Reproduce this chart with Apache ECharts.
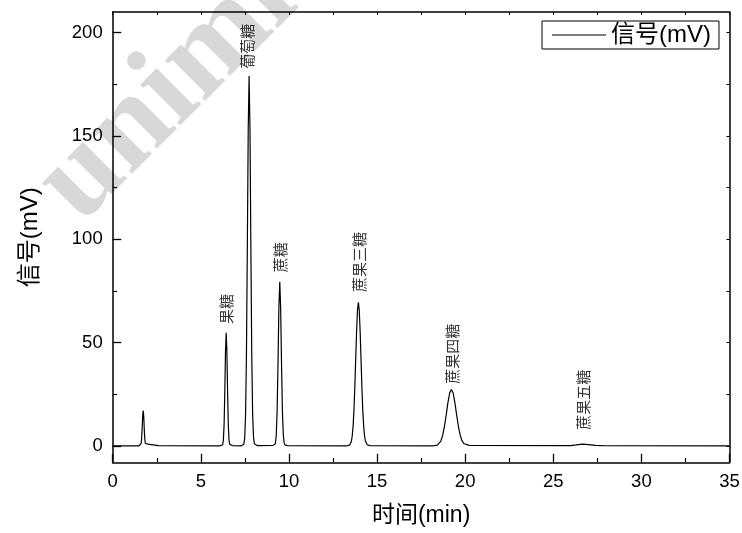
<!DOCTYPE html>
<html>
<head>
<meta charset="utf-8">
<script src="https://cdn.jsdelivr.net/npm/echarts@6/dist/echarts.min.js"></script>
<style>
html,body{margin:0;padding:0;background:#fff;}
#chart{width:742px;height:533px;}
</style>
</head>
<body>
<div id="chart"></div>
<script>
// ---- data ----
const seriesName = '信号(mV)';
const times = [0, 1.5, 1.58, 1.61, 1.64, 1.67, 1.70, 1.73, 1.76, 1.79, 1.82, 1.85, 1.88, 2.0, 2.3, 2.6,
  6.1, 6.2, 6.24, 6.28, 6.32, 6.36, 6.40, 6.44, 6.48, 6.52, 6.56, 6.60, 6.64, 6.7, 6.8,
  7.3, 7.4, 7.44, 7.49, 7.54, 7.59, 7.64, 7.69, 7.74, 7.79, 7.84, 7.89, 7.94, 7.99, 8.04, 8.1, 8.2,
  9.1, 9.18, 9.23, 9.28, 9.33, 9.38, 9.43, 9.48, 9.53, 9.58, 9.63, 9.68, 9.73, 9.78, 9.9,
  13.3, 13.44, 13.54, 13.59, 13.64, 13.69, 13.74, 13.79, 13.84, 13.89, 13.94, 13.99, 14.04, 14.09, 14.14, 14.19, 14.24, 14.29, 14.34, 14.44, 14.6,
  18.2, 18.42, 18.62, 18.72, 18.82, 18.92, 19.02, 19.12, 19.22, 19.32, 19.42, 19.52, 19.62, 19.72, 19.82, 19.92, 20.22,
  26.0, 26.3, 26.67, 27.0, 27.4, 27.8, 35];
const signal = [0, 0, 0.2, 1.0, 3.4, 8.3, 14.3, 17.1, 14.3, 8.3, 3.4, 1.2, 0.6, 0.8, 0.4, 0.1,
  0, 0, 0.5, 2.6, 10, 25.7, 45.3, 54.7, 45.3, 25.7, 10.0, 2.8, 0.7, 0.2, 0.1,
  0, 0.1, 0.7, 3.8, 15.1, 44.6, 96.5, 153, 179, 153, 96.5, 44.6, 15.5, 4.3, 1.0, 0.3, 0.1,
  0.2, 0.2, 1.0, 5.0, 16.7, 39.8, 66.8, 79.4, 66.8, 39.8, 16.7, 5.3, 1.4, 0.4, 0.1,
  0, 0.3, 2.0, 4.6, 9.4, 17.3, 28.6, 42.2, 55.6, 65.7, 69.5, 65.7, 55.6, 42.2, 28.6, 17.3, 9.6, 4.9, 2.3, 0.5, 0.1,
  0, 0.34, 2.3, 4.9, 9.1, 14.7, 20.8, 25.5, 27.3, 25.5, 20.8, 14.7, 9.2, 5.1, 2.5, 1.1, 0.2,
  0.1, 0.4, 0.8, 0.6, 0.2, 0.05, 0];

const peakNames = ['果糖', '葡萄糖', '蔗糖', '蔗果三糖', '蔗果四糖', '蔗果五糖'];
const labelTimes = [6.54, 7.72, 9.58, 14.11, 19.34, 26.8];
const labelValues = [59, 182.5, 84, 74.5, 30, 7.7];

const xTicks = [0, 5, 10, 15, 20, 25, 30, 35];
const yTicks = [0, 50, 100, 150, 200];
const yMinorTicks = [25, 75, 125, 175];
const yAllTicks = [0, 25, 50, 75, 100, 125, 150, 175, 200];
const xName = '时间(min)';
const yName = '信号(mV)';
const watermark = 'unimicro';

// ---- chart ----
const FONT = "'Liberation Sans', Arial, 'Noto Sans CJK SC', sans-serif";
const lineData = times.map((t, i) => [t, signal[i]]);
const labelData = peakNames.map((n, i) => ({ name: n, value: [labelTimes[i], labelValues[i]] }));
const axisLineStyle = { color: '#000', width: 1.5 };

const chart = echarts.init(document.getElementById('chart'), null, { renderer: 'canvas' });
chart.setOption({
  animation: false,
  backgroundColor: '#fff',
  textStyle: { fontFamily: FONT },
  graphic: [{
    type: 'text', x: 102, y: 246, rotation: 45 * Math.PI / 180, z: -10, silent: true,
    style: { text: watermark, font: "bold 124px 'Liberation Serif', serif", fill: '#d8d8d8', align: 'left', verticalAlign: 'bottom' }
  }],
  grid: { left: 112.7, right: 12.5, top: 12, bottom: 70.7, containLabel: false, outerBoundsMode: 'none' },
  legend: {
    left: 542, top: 21, padding: [2, 8, 2, 10],
    borderColor: '#000', borderWidth: 1,
    itemWidth: 54, itemHeight: 1.3, itemGap: 6,
    textStyle: { fontSize: 24, color: '#000', fontFamily: FONT },
    data: [{ name: seriesName, icon: 'path://M0,0H100V2H0Z' }]
  },
  xAxis: [{
    type: 'value', position: 'bottom', min: 0, max: 35, interval: 5,
    name: xName, nameLocation: 'middle', nameGap: 42,
    nameTextStyle: { fontSize: 23, color: '#000', fontFamily: FONT },
    axisLine: { show: true, onZero: false, lineStyle: axisLineStyle },
    axisTick: { show: true, inside: true, length: 8.5, lineStyle: { color: '#000', width: 1.3 } },
    minorTick: { show: true, splitNumber: 2, length: 4.3, lineStyle: { color: '#000', width: 1.2 } },
    axisLabel: { show: true, margin: 10, fontSize: 18.5, color: '#000', fontFamily: FONT, customValues: xTicks },
    splitLine: { show: false }
  }, {
    type: 'value', position: 'top', min: 0, max: 35, interval: 2.5,
    axisLine: { show: true, onZero: false, lineStyle: axisLineStyle },
    axisTick: { show: true, inside: true, length: 3, lineStyle: { color: '#000', width: 1 } },
    axisLabel: { show: false },
    splitLine: { show: false }
  }],
  yAxis: [{
    type: 'value', position: 'left', min: -8, max: 210,
    name: yName, nameLocation: 'middle', nameGap: 70,
    nameTextStyle: { fontSize: 24, color: '#000', fontFamily: FONT },
    axisLine: { show: true, onZero: false, lineStyle: axisLineStyle },
    axisTick: { show: true, inside: true, length: 8.5, customValues: yTicks, lineStyle: { color: '#000', width: 1.3 } },
    axisLabel: { show: true, margin: 10, fontSize: 18.5, color: '#000', fontFamily: FONT, customValues: yTicks },
    splitLine: { show: false }
  }, {
    type: 'value', position: 'left', min: -8, max: 210,
    axisLine: { show: false },
    axisTick: { show: true, inside: true, length: 4.5, customValues: yMinorTicks, lineStyle: { color: '#000', width: 1.2 } },
    axisLabel: { show: false },
    splitLine: { show: false }
  }, {
    type: 'value', position: 'right', min: -8, max: 210,
    axisLine: { show: true, onZero: false, lineStyle: axisLineStyle },
    axisTick: { show: true, inside: true, length: 3, customValues: yAllTicks, lineStyle: { color: '#000', width: 1 } },
    axisLabel: { show: false },
    splitLine: { show: false }
  }],
  series: [{
    name: seriesName, type: 'line', xAxisIndex: 0, yAxisIndex: 0,
    data: lineData, symbol: 'none', showSymbol: false, smooth: false,
    lineStyle: { color: '#000', width: 1.2 }, itemStyle: { color: '#000' },
    z: 3
  }, {
    name: 'labels', type: 'scatter', xAxisIndex: 0, yAxisIndex: 0,
    data: labelData, symbolSize: 0.01, itemStyle: { color: 'rgba(0,0,0,0)' },
    label: {
      show: true, formatter: p => p.name, position: 'inside', rotate: 90,
      align: 'left', verticalAlign: 'middle', fontSize: 15, color: '#000', fontFamily: FONT
    },
    z: 4
  }]
});
</script>
</body>
</html>
